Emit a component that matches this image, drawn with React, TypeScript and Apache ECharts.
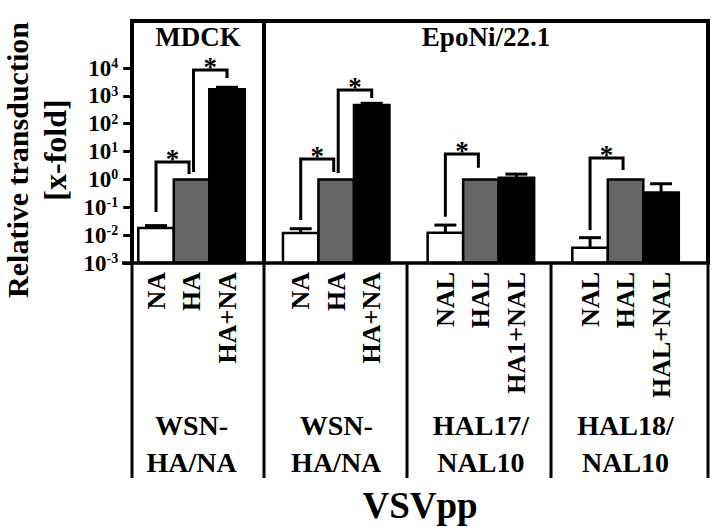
import React, { useEffect, useRef } from 'react';
import * as echarts from 'echarts';

// ---- data ----
const groupNames = ['WSN-\nHA/NA', 'WSN-\nHA/NA', 'HAL17/\nNAL10', 'HAL18/\nNAL10'];
const labelsA = ['NA', 'NA', 'NAL', 'NAL'];
const labelsB = ['HA', 'HA', 'HAL', 'HAL'];
const labelsC = ['HA+NA', 'HA+NA', 'HA1+NAL', 'HAL+NAL'];
const valuesA = [0.018, 0.012, 0.0123, 0.0035];
const upperA = [0.022, 0.017, 0.023, 0.0081];
const valuesB = [1, 1, 1, 1];
const valuesC = [1720, 470, 1.15, 0.34];
const upperC = [2030, 540, 1.55, 0.7];
// [group, leftBar, rightBar, leftFoot, top, rightFoot]
const brackets = [
  [0, 0, 1, 0.068, 4.2, 1.57],
  [0, 1, 2, 1.85, 8480, 4380],
  [1, 0, 1, 0.035, 5.4, 1.85],
  [1, 1, 2, 1.7, 1620, 840],
  [2, 0, 1, 0.046, 8.2, 2.6],
  [3, 0, 1, 0.0153, 5.9, 2.2],
];
const panelNames = ['MDCK', 'EpoNi/22.1'];
const yTitle = 'Relative transduction';
const ySubTitle = '[x-fold]';
const xTitle = 'VSVpp';
const yMin = 0.001;
const yMax = 10000;

const FONT = 'Liberation Serif';
const BAR_W = 35.5;
const BAR_FILL = ['#ffffff', '#666666', '#000000'];

export default function App() {
  const ref = useRef<HTMLDivElement>(null);
  useEffect(() => {
    document.body.style.margin = '0';
    const chart = echarts.init(ref.current!, null, { renderer: 'svg' });

    const barData: any[] = [];
    const labelSets = [labelsA, labelsB, labelsC];
    [valuesA, valuesB, valuesC].forEach((vals, b) =>
      vals.forEach((v, g) => barData.push([g, b, v, labelSets[b][g]]))
    );

    const errData: number[][] = [];
    valuesA.forEach((v, g) => errData.push([g, 0, v, upperA[g]]));
    valuesC.forEach((v, g) => errData.push([g, 2, v, upperC[g]]));

    const line = (x1: number, y1: number, x2: number, y2: number, w: number) => ({
      type: 'line',
      shape: { x1, y1, x2, y2 },
      style: { stroke: '#000', lineWidth: w },
      z: 100,
    });
    const text = (t: string, x: number, y: number, size: number, rotation = 0) => ({
      type: 'text',
      x,
      y,
      rotation,
      style: {
        text: t,
        fill: '#000',
        font: `bold ${size}px ${FONT}`,
        align: 'center',
        verticalAlign: 'middle',
      },
      z: 100,
    });

    const option: any = {
      animation: false,
      backgroundColor: '#fff',
      grid: { left: 119.2, right: 14.1, top: 68, bottom: 264, outerBoundsMode: 'none', containLabel: false },
      xAxis: {
        type: 'category',
        data: groupNames,
        axisLine: { show: false },
        axisTick: { show: false },
        axisLabel: {
          margin: 144,
          fontSize: 28,
          lineHeight: 37,
          fontWeight: 'bold',
          fontFamily: FONT,
          color: '#000',
          interval: 0,
        },
      },
      yAxis: {
        type: 'log',
        logBase: 10,
        min: yMin,
        max: yMax,
        offset: -12,
        axisLine: { show: false },
        splitLine: { show: false },
        axisTick: { show: true, length: 8, lineStyle: { color: '#000', width: 3 } },
        axisLabel: {
          margin: 13,
          color: '#000',
          formatter: (v: number) => `{b|10}{s|${Math.round(Math.log10(v))}}`,
          rich: {
            b: { fontSize: 23, fontWeight: 'bold', fontFamily: FONT, color: '#000' },
            s: { fontSize: 14, fontWeight: 'bold', fontFamily: FONT, color: '#000', verticalAlign: 'top', padding: [0, 0, 8, 0] },
          },
        },
      },
      series: [
        {
          type: 'custom',
          data: barData,
          encode: { x: 0, y: 2 },
          z: 2,
          renderItem: (params: any, api: any) => {
            const g = api.value(0);
            const b = api.value(1);
            const base = api.coord([g, yMin]);
            const top = api.coord([g, api.value(2)]);
            const x = base[0] + (b - 1) * BAR_W;
            const name = barData[params.dataIndex][3];
            return {
              type: 'group',
              children: [
                {
                  type: 'rect',
                  shape: { x: x - BAR_W / 2, y: top[1], width: BAR_W, height: base[1] - top[1] },
                  style: { fill: BAR_FILL[b], stroke: '#000', lineWidth: 2.5 },
                },
                {
                  type: 'text',
                  x,
                  y: base[1] + 9,
                  rotation: Math.PI / 2,
                  style: {
                    text: name,
                    fill: '#000',
                    font: `bold 26px ${FONT}`,
                    align: 'right',
                    verticalAlign: 'middle',
                  },
                },
              ],
            };
          },
        },
        {
          type: 'custom',
          data: errData,
          encode: { x: 0, y: [2, 3] },
          z: 5,
          renderItem: (params: any, api: any) => {
            const g = api.value(0);
            const b = api.value(1);
            const top = api.coord([g, api.value(2)]);
            const up = api.coord([g, api.value(3)]);
            const x = top[0] + (b - 1) * BAR_W;
            const st = { stroke: '#000', lineWidth: 3 };
            return {
              type: 'group',
              children: [
                { type: 'line', shape: { x1: x, y1: top[1], x2: x, y2: up[1] }, style: st },
                { type: 'line', shape: { x1: x - 11, y1: up[1], x2: x + 11, y2: up[1] }, style: st },
              ],
            };
          },
        },
        {
          type: 'custom',
          data: brackets,
          encode: { x: 0, y: [3, 4, 5] },
          z: 6,
          renderItem: (params: any, api: any) => {
            const g = api.value(0);
            const lb = api.value(1);
            const rb = api.value(2);
            const pL = api.coord([g, api.value(3)]);
            const pT = api.coord([g, api.value(4)]);
            const pR = api.coord([g, api.value(5)]);
            const cx = pT[0];
            const xl = cx + (lb - 1) * BAR_W + (lb === 1 ? 2 : 0);
            const xr = cx + (rb - 1) * BAR_W - (rb === 1 ? 2.5 : 0);
            return {
              type: 'group',
              children: [
                {
                  type: 'polyline',
                  shape: { points: [[xl, pL[1]], [xl, pT[1]], [xr, pT[1]], [xr, pR[1]]] },
                  style: { stroke: '#000', lineWidth: 3, fill: 'none', lineJoin: 'miter' },
                },
                {
                  type: 'text',
                  x: (xl + xr) / 2,
                  y: pT[1] - 3,
                  style: {
                    text: '*',
                    fill: '#000',
                    font: `bold 27px ${FONT}`,
                    align: 'center',
                    verticalAlign: 'middle',
                  },
                },
              ],
            };
          },
        },
      ],
      graphic: [
        {
          type: 'polyline',
          shape: { points: [[132, 263], [132, 21], [708, 21], [708, 263]] },
          style: { stroke: '#000', lineWidth: 4, fill: 'none' },
          z: 100,
        },
        line(264, 21, 264, 263, 4),
        line(122, 263, 710, 263, 3.5),
        line(132, 263, 132, 478, 3),
        line(264, 263, 264, 478, 3),
        line(407, 263, 407, 478, 3),
        line(551, 263, 551, 478, 3),
        line(708, 263, 708, 478, 3),
        text(panelNames[0], 198, 37, 27),
        text(panelNames[1], 486, 37, 27),
        text(yTitle, 17, 160, 30, Math.PI / 2),
        text(ySubTitle, 55, 150, 32, Math.PI / 2),
        text(xTitle, 420, 505, 37),
      ],
    };
    chart.setOption(option);
    return () => chart.dispose();
  }, []);
  return <div ref={ref} style={{ position: 'fixed', left: 0, top: 0, width: 712, height: 527 }} />;
}
